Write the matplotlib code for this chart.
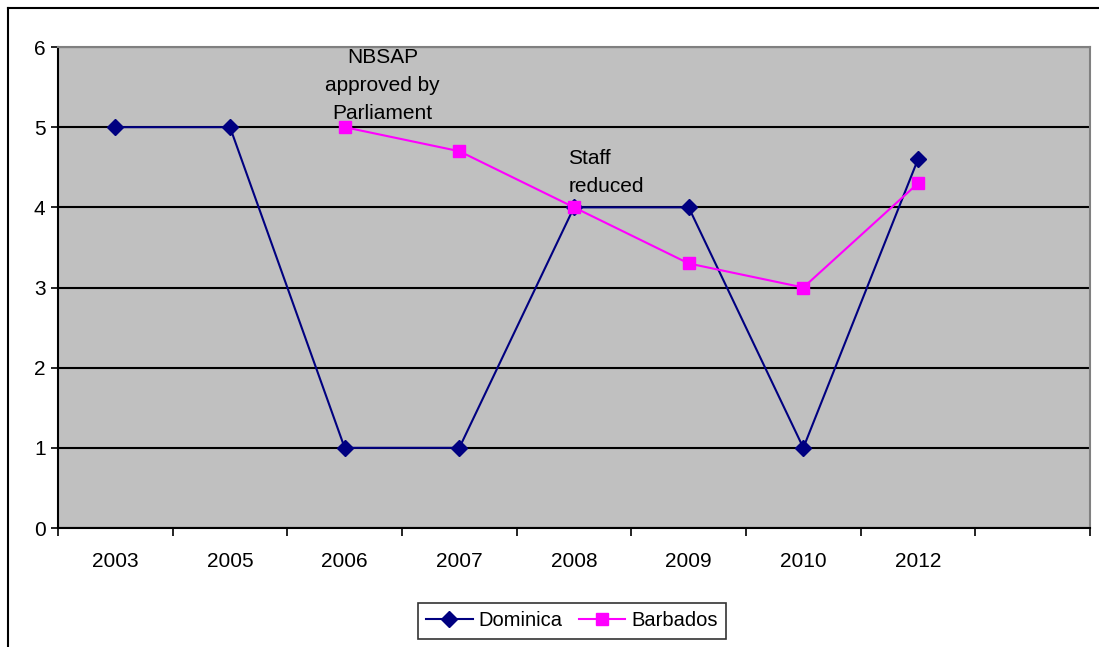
import matplotlib.pyplot as plt
import numpy as np

plt.rcParams['font.family'] = ['Liberation Sans', 'DejaVu Sans']

years = ["2003", "2005", "2006", "2007", "2008", "2009", "2010", "2012", ""]
dominica = [5, 5, 1, 1, 4, 4, 1, 4.6]
barbados = [np.nan, np.nan, 5.0, 4.7, 4.0, 3.3, 3.0, 4.3]

fig = plt.figure(figsize=(10.99, 6.47), dpi=100)
ax = fig.add_axes([58 / 1099, 1 - 528 / 647, (1090 - 58) / 1099, (528 - 47) / 647])
ax.set_facecolor("#C0C0C0")

x = np.arange(len(dominica))
ax.plot(x, dominica, color="#000080", lw=1.5, marker="D", ms=8,
        label="Dominica", zorder=3)
ax.plot(x, barbados, color="#FF00FF", lw=1.5, marker="s", ms=8,
        label="Barbados", zorder=4)

ax.set_ylim(0, 6)
ax.set_xlim(-0.5, len(years) - 0.5)
ax.set_yticks(range(7))
ax.yaxis.grid(True, color="black", lw=1.5)
ax.set_axisbelow(True)
ax.tick_params(axis="y", direction="out", length=5, width=1.2, labelsize=15, pad=4)

ax.set_xticks(np.arange(len(years) + 1) - 0.5)
ax.set_xticklabels([])
ax.set_xticks(x.tolist() + [8], minor=True)
ax.set_xticklabels(years, minor=True)
ax.tick_params(axis="x", which="major", direction="out", length=6, width=1.2)
ax.tick_params(axis="x", which="minor", length=0, labelsize=15, pad=17)

for side in ["left", "bottom"]:
    ax.spines[side].set_color("black")
    ax.spines[side].set_linewidth(1.5)
for side in ["top", "right"]:
    ax.spines[side].set_color("#808080")
    ax.spines[side].set_linewidth(1.5)

ax.text(2.33, 5.05, "NBSAP\napproved by\nParliament", ha="center", va="bottom",
        fontsize=15, linespacing=1.6)
ax.text(3.95, 4.14, "Staff\nreduced", ha="left", va="bottom",
        fontsize=15, linespacing=1.6)

leg = fig.legend(loc="center", bbox_to_anchor=(572 / 1099, 1 - 621 / 647), ncol=2,
                 fontsize=14.5, frameon=True, fancybox=False, edgecolor="black",
                 handlelength=2.3, handletextpad=0.3, columnspacing=0.8,
                 borderpad=0.4)
leg.get_frame().set_linewidth(1.2)

# figure border (only left and top visible)
fig.add_artist(plt.Line2D([7.5 / 1099, 7.5 / 1099], [0, 1 - 7.5 / 647],
                          transform=fig.transFigure, color="black", lw=1.5))
fig.add_artist(plt.Line2D([7.5 / 1099, 1], [1 - 7.5 / 647, 1 - 7.5 / 647],
                          transform=fig.transFigure, color="black", lw=1.5))

fig.savefig("out.png", dpi=100)
